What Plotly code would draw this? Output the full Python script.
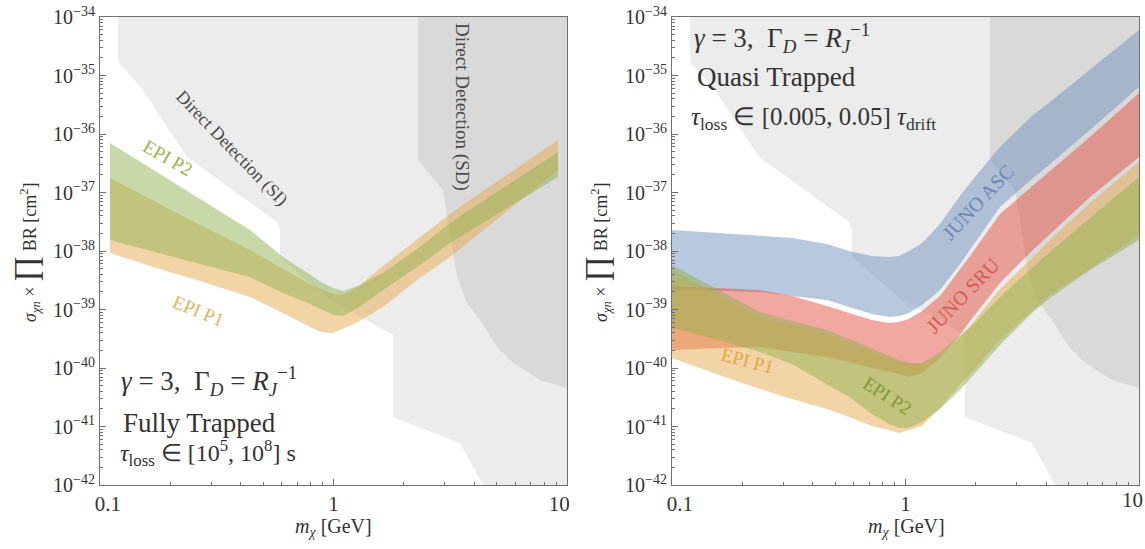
import plotly.graph_objects as go

W, H = 1145, 549

# ---------------- data ----------------
# Direct detection exclusion regions (same in both panels)
si_mass = [0.1194, 0.1194, 0.1344, 0.1528, 0.1936, 0.2359, 0.5728, 0.590, 0.590, 0.966, 1.798, 1.798, 3.48, 4.37, 10, 10]
si_sigma = [1e-34, 1.70e-35, 1.02e-35, 5.65e-36, 1.32e-36, 4.05e-37, 3.13e-38, 2.29e-38, 7.89e-39, 1.45e-39, 3.66e-40, 1.45e-41, 5.22e-42, 1e-42, 1e-42, 1e-34]
sd_mass = [2.301, 2.301, 2.944, 3.155, 3.380, 3.729, 4.241, 5.015, 5.870, 7.663, 10, 10]
sd_sigma = [1e-34, 3.60e-37, 1.10e-37, 2.03e-38, 3.60e-39, 1.29e-39, 6.62e-40, 2.29e-40, 1.22e-40, 6.24e-41, 4.55e-41, 1e-34]

# Left panel: Fully trapped
left_mass = [0.1104, 0.1638, 0.2679, 0.4389, 0.6076, 0.7777, 0.8840, 0.9951, 1.098, 1.273, 1.629, 2.279, 3.155, 4.367, 9.151]
left_p2_upper = [7.01e-37, 2.62e-37, 7.74e-38, 2.29e-38, 7.89e-39, 4.05e-39, 2.95e-39, 2.33e-39, 2.07e-39, 2.52e-39, 4.21e-39, 1.08e-38, 3.01e-38, 7.16e-38, 4.92e-37]
left_p2_lower = [1.54e-38, 1.0e-38, 6.00e-39, 3.60e-39, 1.91e-39, 1.29e-39, 1.02e-39, 8.05e-40, 7.74e-40, 1.06e-39, 2.15e-39, 5.32e-39, 1.37e-38, 3.01e-38, 1.84e-37]
left_p1_upper = [1.77e-37, 7.74e-38, 2.78e-38, 1.04e-38, 4.92e-39, 2.84e-39, 2.24e-39, 1.84e-39, 1.77e-39, 2.43e-39, 5.55e-39, 1.54e-38, 4.29e-38, 1.06e-37, 7.89e-37]
left_p1_lower = [9.25e-39, 5.55e-39, 3.07e-39, 1.64e-39, 8.71e-40, 5.22e-40, 4.12e-40, 3.96e-40, 4.64e-40, 6.11e-40, 1.10e-39, 3.19e-39, 7.89e-39, 2.29e-38, 2.43e-37]

# Right panel: Quasi trapped
right_mass = [0.1, 0.1638, 0.2382, 0.3265, 0.4611, 0.5728, 0.7185, 0.8497, 0.9380, 1.035, 1.177, 1.405, 1.711, 1.889, 2.539, 3.516, 4.157, 6.167, 10.0]
asc_upper = [2.29e-38, 2.03e-38, 1.80e-38, 1.67e-38, 1.32e-38, 1.0e-38, 8.22e-39, 7.89e-39, 8.22e-39, 1.0e-38, 1.37e-38, 2.90e-38, 8.71e-38, 1.45e-37, 6.00e-37, 2.11e-36, 3.52e-36, 1.24e-35, 6.00e-35]
asc_lower = [2.15e-39, 2.07e-39, 1.99e-39, 1.70e-39, 1.45e-39, 1.10e-39, 8.38e-40, 7.45e-40, 7.74e-40, 8.71e-40, 1.19e-39, 2.15e-39, 6.00e-39, 1.04e-38, 5.65e-38, 1.77e-37, 3.07e-37, 1.17e-36, 6.35e-36]
sru_upper = [2.52e-39, 2.33e-39, 2.15e-39, 1.70e-39, 1.15e-39, 8.71e-40, 6.62e-40, 5.87e-40, 6.11e-40, 6.89e-40, 9.42e-40, 1.70e-39, 4.73e-39, 8.22e-39, 4.29e-38, 1.34e-37, 2.33e-37, 8.89e-37, 5.02e-36]
sru_lower = [2.03e-40, 2.20e-40, 2.29e-40, 1.88e-40, 1.54e-40, 1.27e-40, 1.0e-40, 8.55e-41, 7.89e-41, 7.01e-41, 8.22e-41, 1.48e-40, 3.66e-40, 6.35e-40, 2.84e-39, 1.04e-38, 1.95e-38, 8.38e-38, 4.05e-37]
right_p1_upper = [4.73e-39, 1.64e-39, 7.16e-40, 5.22e-40, 3.81e-40, 2.67e-40, 1.88e-40, 1.48e-40, 1.27e-40, 1.22e-40, 1.17e-40, 1.60e-40, 3.39e-40, 5.22e-40, 2.24e-39, 7.89e-39, 1.54e-38, 6.62e-38, 3.32e-37]
right_p1_lower = [1.48e-40, 7.29e-41, 4.38e-41, 2.95e-41, 1.99e-41, 1.45e-41, 1.02e-41, 8.71e-42, 7.74e-42, 8.71e-42, 1.02e-41, 2.07e-41, 5.12e-41, 7.89e-41, 3.01e-40, 9.79e-40, 1.77e-39, 4.92e-39, 1.88e-38]
right_p2_upper = [5.77e-39, 1.99e-39, 9.06e-40, 6.35e-40, 4.47e-40, 3.13e-40, 2.11e-40, 1.60e-40, 1.37e-40, 1.22e-40, 1.22e-40, 1.88e-40, 3.66e-40, 4.83e-40, 1.64e-39, 5.32e-39, 9.62e-39, 3.66e-38, 1.84e-37]
right_p2_lower = [4.83e-40, 2.90e-40, 1.88e-40, 1.17e-40, 5.32e-41, 3.19e-41, 1.64e-41, 1.10e-41, 9.42e-42, 9.42e-42, 1.19e-41, 1.99e-41, 4.21e-41, 6.75e-41, 2.47e-40, 9.06e-40, 1.57e-39, 4.73e-39, 1.54e-38]

y_tick_vals = [1e-42, 1e-41, 1e-40, 1e-39, 1e-38, 1e-37, 1e-36, 1e-35, 1e-34]
y_tick_text = ["10<sup>\u221242</sup>", "10<sup>\u221241</sup>", "10<sup>\u221240</sup>", "10<sup>\u221239</sup>",
               "10<sup>\u221238</sup>", "10<sup>\u221237</sup>", "10<sup>\u221236</sup>", "10<sup>\u221235</sup>",
               "10<sup>\u221234</sup>"]
x_tick_vals = [0.1, 1, 10]
x_tick_text_left = ["\u00a0\u00a0\u00a00.1", "1", "10\u00a0\u00a0\u00a0"]
x_tick_text_right = ["\u00a0\u00a0\u00a00.1", "1", ""]   # the last "10" is written as a note (edge of page)

# ---------------- styling ----------------
FONT = "Liberation Serif"
SI_COLOR = "#ececec"
SD_COLOR = "#d9d9d9"
P1_FILL = "rgba(231,169,77,0.5)"
P2_FILL = "rgba(145,177,81,0.5)"
ASC_FILL = "rgba(113,145,189,0.5)"
SRU_FILL = "rgba(225,81,65,0.5)"
FRAME = "#6f6f6f"


def px_x(p):
    return p / W


def px_y(p):
    return 1 - p / H


fig = go.Figure()


def region(xs, ys, color, xa, ya):
    fig.add_trace(go.Scatter(x=xs, y=ys, mode="lines", fill="toself", fillcolor=color,
                             line=dict(width=0), hoverinfo="skip", showlegend=False,
                             xaxis=xa, yaxis=ya))


def band(xs, up, lo, color, xa, ya):
    region(list(xs) + list(xs)[::-1], list(up) + list(lo)[::-1], color, xa, ya)


for xa, ya in (("x", "y"), ("x2", "y2")):
    region(si_mass, si_sigma, SI_COLOR, xa, ya)
    region(sd_mass, sd_sigma, SD_COLOR, xa, ya)

band(left_mass, left_p1_upper, left_p1_lower, P1_FILL, "x", "y")
band(left_mass, left_p2_upper, left_p2_lower, P2_FILL, "x", "y")

band(right_mass, asc_upper, asc_lower, ASC_FILL, "x2", "y2")
band(right_mass, sru_upper, sru_lower, SRU_FILL, "x2", "y2")
band(right_mass, right_p1_upper, right_p1_lower, P1_FILL, "x2", "y2")
band(right_mass, right_p2_upper, right_p2_lower, P2_FILL, "x2", "y2")

axis_common = dict(type="log", showgrid=False, zeroline=False, showline=True, linecolor=FRAME,
                   linewidth=1, mirror=True, ticks="inside", tickcolor=FRAME, ticklen=6,
                   automargin=False, ticklabeloverflow="allow")

xa_common = dict(axis_common, range=[-1, 1], tickvals=x_tick_vals,
                 tickfont=dict(family=FONT, size=21, color="#333333"),
                 minor=dict(ticks="inside", ticklen=3, tickcolor=FRAME, dtick="D1", showgrid=False))
ya_common = dict(axis_common, range=[-42, -34], tickvals=y_tick_vals, ticktext=y_tick_text,
                 tickfont=dict(family=FONT, size=20, color="#333333"),
                 minor=dict(ticks="inside", ticklen=3, tickcolor=FRAME, dtick="D1", showgrid=False))

ydom = [px_y(485), px_y(17)]
fig.update_layout(
    width=W, height=H,
    margin=dict(l=0, r=0, t=0, b=0, autoexpand=False),
    paper_bgcolor="white", plot_bgcolor="white",
    showlegend=False,
    hovermode=False,
    xaxis=dict(xa_common, ticktext=x_tick_text_left, domain=[px_x(100), px_x(567)], anchor="y"),
    yaxis=dict(ya_common, domain=ydom, anchor="x"),
    xaxis2=dict(xa_common, ticktext=x_tick_text_right, domain=[px_x(672), px_x(1139)], anchor="y2"),
    yaxis2=dict(ya_common, domain=ydom, anchor="x2"),
)


def note(px, py, text, size=18, color="#333333", angle=0, xanchor="center"):
    fig.add_annotation(x=px_x(px), y=px_y(py), xref="paper", yref="paper", text=text,
                       showarrow=False, textangle=angle, xanchor=xanchor, yanchor="middle",
                       font=dict(family=FONT, size=size, color=color))


note(1132, 500, "10", size=21)

ytitle = ("<i>\u03c3</i><sub><i>\u03c7n</i></sub> \u00d7 "
          "<span style='font-size:32px'>\u220f</span> BR [cm<sup>2</sup>]")
note(25, 252, ytitle, size=18, angle=-90)
note(596, 252, ytitle, size=18, angle=-90)
xtitle = "<i>m</i><sub><i>\u03c7</i></sub> [GeV]"
note(333, 527, xtitle, size=20)
note(906, 527, xtitle, size=20)

gam = "<i>\u03b3</i> = 3,  \u0393<sub><i>D</i></sub> = <i>R</i><sub><i>J</i></sub><sup>\u22121</sup>"
# left panel text
note(119, 381, gam, size=27, xanchor="left")
note(121, 423, "Fully Trapped", size=27, xanchor="left")
note(118, 453, "<i>\u03c4</i><sub>loss</sub> \u2208 [10<sup>5</sup>, 10<sup>8</sup>] s", size=24, xanchor="left")
# right panel text
note(692, 38, gam, size=27, xanchor="left")
note(695, 77, "Quasi Trapped", size=27, xanchor="left")
note(689, 119, "<i>\u03c4</i><sub>loss</sub> \u2208 [0.005, 0.05] <i>\u03c4</i><sub>drift</sub>", size=25, xanchor="left")

# region / band labels
note(232, 148, "Direct Detection (SI)", size=18, color="#4a4a4a", angle=46)
note(462, 107, "Direct Detection (SD)", size=19, color="#4a4a4a", angle=90)
note(167, 158, "EPI P2", size=19, color="#9cb44e", angle=30)
note(198, 310, "EPI P1", size=19, color="#e2b45c", angle=22)
note(978, 202, "JUNO ASC", size=20, color="#6a86b8", angle=-47)
note(963, 295, "JUNO SRU", size=20, color="#d55a52", angle=-46)
note(747, 360, "EPI P1", size=19, color="#e0a848", angle=15)
note(887, 395, "EPI P2", size=19, color="#7a9a38", angle=33)

fig.write_html("out.html", config={"displayModeBar": False},
               post_script="document.body.style.margin='0';")
